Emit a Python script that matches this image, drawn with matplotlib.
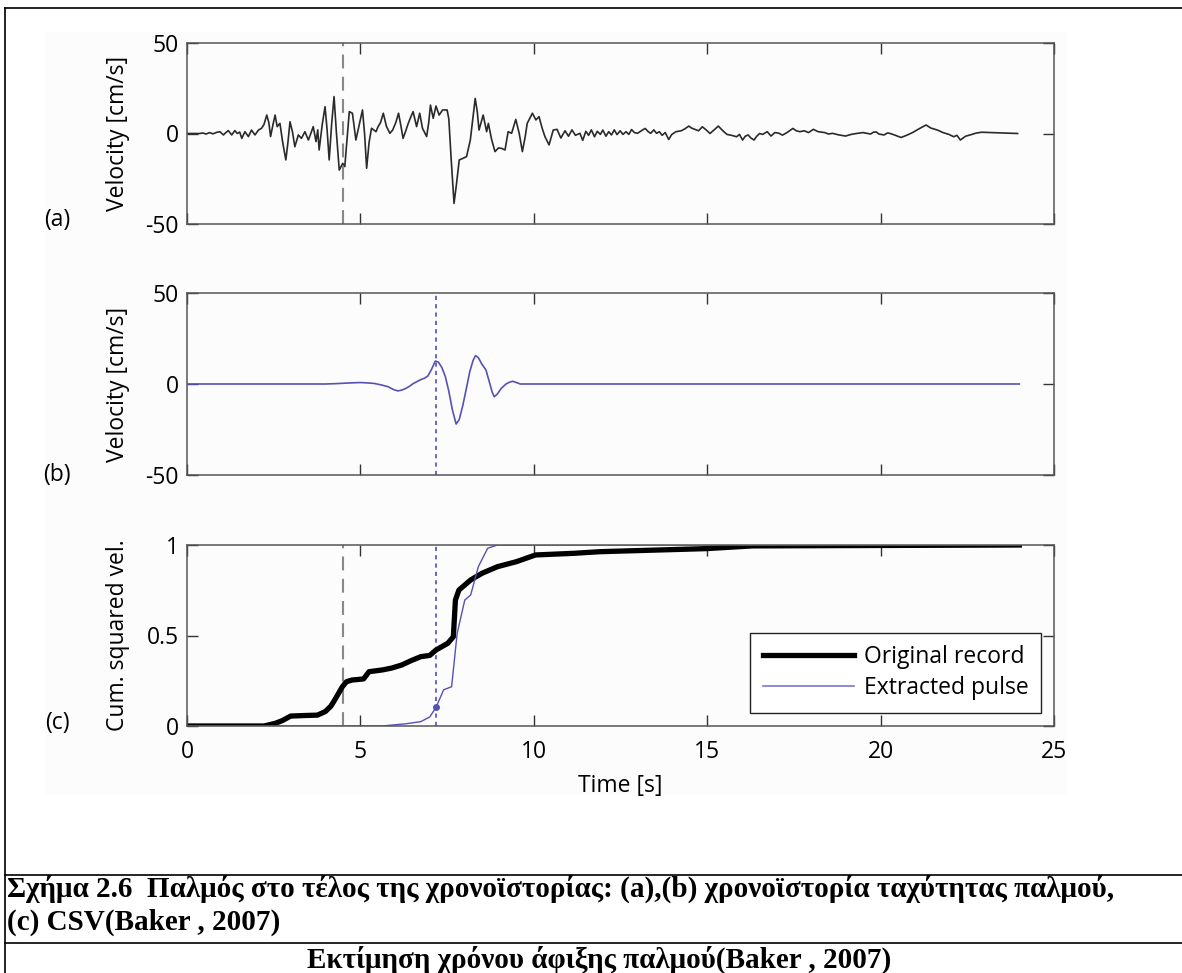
import numpy as np
import matplotlib
matplotlib.use("Agg")
import matplotlib.pyplot as plt
from matplotlib.lines import Line2D
from matplotlib.patches import Rectangle

plt.rcParams['font.family'] = ['Open Sans', 'DejaVu Sans']
plt.rcParams['lines.scale_dashes'] = False
plt.rcParams['axes.unicode_minus'] = False

# (a) original velocity record: time [s], velocity [cm/s]
vel_t = [0.0, 0.37, 0.45, 0.55, 0.65, 0.75, 0.85, 0.95, 1.05, 1.12, 1.19, 1.29, 1.38, 1.45,
         1.52, 1.58, 1.67, 1.77, 1.86, 1.96, 2.06, 2.15, 2.22, 2.30, 2.36, 2.41, 2.48, 2.54,
         2.60, 2.68, 2.76, 2.85, 2.91, 2.97, 3.04, 3.11, 3.21, 3.30, 3.40, 3.50, 3.57, 3.64,
         3.72, 3.77, 3.81, 3.90, 3.98, 4.04, 4.10, 4.17, 4.24, 4.31, 4.39, 4.49, 4.55, 4.62,
         4.68, 4.77, 4.87, 4.97, 5.06, 5.12, 5.18, 5.25, 5.32, 5.45, 5.51, 5.58, 5.66, 5.75,
         5.85, 5.93, 6.02, 6.10, 6.17, 6.23, 6.30, 6.38, 6.45, 6.52, 6.62, 6.71, 6.79, 6.91,
         6.97, 7.02, 7.10, 7.18, 7.27, 7.37, 7.50, 7.55, 7.62, 7.70, 7.77, 7.85, 7.96, 8.06,
         8.17, 8.24, 8.31, 8.37, 8.42, 8.48, 8.54, 8.64, 8.69, 8.78, 8.88, 8.98, 9.07, 9.17,
         9.26, 9.36, 9.48, 9.58, 9.67, 9.75, 9.81, 9.96, 10.06, 10.15, 10.24, 10.32, 10.44,
         10.56, 10.67, 10.78, 10.90, 11.00, 11.10, 11.20, 11.33, 11.41, 11.50, 11.58, 11.66,
         11.75, 11.83, 11.92, 11.99, 12.08, 12.16, 12.24, 12.32, 12.40, 12.49, 12.57, 12.66,
         12.74, 12.82, 12.90, 12.99, 13.10, 13.21, 13.30, 13.37, 13.46, 13.54, 13.62, 13.70,
         13.79, 13.89, 13.98, 14.10, 14.25, 14.35, 14.47, 14.55, 14.64, 14.75, 14.86, 14.97,
         15.08, 15.20, 15.32, 15.45, 15.57, 15.70, 15.85, 15.93, 16.02, 16.10, 16.18, 16.26,
         16.35, 16.43, 16.51, 16.60, 16.73, 16.84, 16.95, 17.06, 17.17, 17.30, 17.47, 17.57,
         17.67, 17.80, 17.92, 18.06, 18.20, 18.39, 18.50, 18.61, 18.80, 18.99, 19.15, 19.30,
         19.49, 19.60, 19.71, 19.80, 19.88, 19.95, 20.10, 20.20, 20.26, 20.40, 20.59, 20.75,
         20.92, 21.10, 21.31, 21.45, 21.64, 21.80, 21.97, 22.11, 22.20, 22.30, 22.45, 22.58,
         22.75, 22.91, 23.95]
vel_v = [0.0, 0.0, 0.3, -0.3, 0.5, -0.2, 0.6, 1.0, -0.8, 0.5, 1.6, -0.8, 1.6, 0.0,
         0.8, -2.7, 1.0, -1.7, 1.9, -0.8, 1.9, 2.9, 5.0, 10.2, 6.0, -1.7, 5.0, 10.2,
         3.8, 5.6, -5.0, -14.6, -5.0, 6.5, 1.0, -7.3, -0.8, -2.7, 1.0, -3.6, 0.0, 3.8,
         -4.5, 2.0, -9.1, 5.0, 14.8, 2.0, -14.6, 5.0, 20.4, 0.0, -20.2, -16.5, -18.3, -2.0,
         12.1, 11.2, -3.6, 5.0, 13.0, 0.0, -19.2, -5.0, 2.9, 1.0, 3.8, 6.0, 11.2, 4.0,
         0.1, 1.9, 6.0, 11.2, 4.0, -2.7, 1.0, 5.6, 9.0, 12.1, 3.8, 11.2, 2.9, -1.7,
         6.0, 15.7, 8.4, 15.2, 10.2, 13.0, 13.0, 8.0, -15.0, -38.6, -28.0, -14.6, -13.7, -12.8,
         -3.6, 8.0, 19.4, 12.0, 1.9, 6.0, 10.2, 1.0, 5.6, -3.0, -10.0, -8.0, -8.2, -9.1,
         1.0, 0.1, 7.8, 0.0, -10.0, -2.0, 5.6, 11.2, 7.5, 9.3, 3.0, -1.7, -6.3,
         1.9, 2.3, -2.5, 1.5, -1.5, 2.0, -1.0, 0.1, -3.8, 1.2, -1.0, 2.0,
         -1.8, 1.2, -0.5, 1.9, -1.5, 1.0, -0.8, 2.0, -0.6, 1.5, -0.5, 1.0,
         -0.5, 2.2, 0.5, 0.1, 1.5, 2.8, 1.0, 0.1, 2.0, 0.1, 1.0, -1.0,
         0.5, -3.3, -0.5, 1.0, 1.5, 2.5, 4.1, 3.0, 2.3, 1.5, 3.7, 2.0,
         0.0, 2.0, 4.1, 1.5, -0.5, -1.0, -1.8, -0.5, -3.6, -1.5, -0.8, -2.5,
         -3.6, -1.5, 0.0, -0.5, 1.0, -1.4, 0.5, 0.2, -0.9, 0.5, 2.8, 1.5,
         1.0, 1.5, 0.5, 2.3, 1.0, 0.5, -0.3, 0.1, -0.8, -1.4, -0.5, 0.0,
         0.5, 0.1, -0.3, 0.8, 0.8, -0.3, -0.8, 0.3, 0.1, -0.8, -2.2, -1.0,
         0.5, 2.5, 4.7, 3.0, 1.9, 0.5, -0.5, -1.8, -1.0, -3.6, -1.5, -0.8,
         0.2, 0.7, 0.0]

# (b) extracted pulse
pulse_t = [0.0, 4.0, 4.3, 4.7, 5.0, 5.2, 5.4, 5.6, 5.8, 5.95, 6.08, 6.2, 6.3, 6.42, 6.52,
           6.65, 6.75, 6.85, 6.95, 7.05, 7.16, 7.25, 7.35, 7.45, 7.55, 7.65, 7.76, 7.85,
           7.95, 8.05, 8.15, 8.25, 8.32, 8.4, 8.5, 8.62, 8.72, 8.8, 8.86, 8.95, 9.06, 9.2,
           9.3, 9.39, 9.5, 9.61, 24.0]
pulse_v = [0.0, 0.0, 0.2, 0.6, 0.8, 0.6, 0.3, -0.5, -1.5, -3.0, -3.8, -3.3, -2.5, -1.2, 0.2,
           1.5, 2.5, 3.2, 4.5, 8.0, 12.6, 12.0, 9.0, 4.0, -4.0, -14.0, -22.0, -19.5,
           -12.0, -3.0, 6.5, 13.0, 15.6, 14.5, 11.0, 7.7, 1.0, -4.5, -7.0, -5.5, -2.4, 0.0,
           1.0, 1.5, 0.8, 0.0, 0.0]

# (c) cumulative squared velocity, normalised
cum_orig_t = [0.0, 2.22, 2.40, 2.55, 2.75, 2.99, 3.40, 3.76, 3.99, 4.15, 4.26, 4.48, 4.60,
              4.76, 5.09, 5.25, 5.64, 5.90, 6.19, 6.45, 6.74, 7.00, 7.18, 7.52, 7.68, 7.74,
              7.84, 8.18, 8.51, 8.95, 9.50, 10.05, 11.15, 11.90, 14.97, 16.30, 24.0]
cum_orig = [0.0, 0.0, 0.008, 0.015, 0.03, 0.055, 0.058, 0.06, 0.08, 0.11, 0.144, 0.217, 0.245,
            0.254, 0.26, 0.30, 0.31, 0.32, 0.337, 0.36, 0.383, 0.39, 0.42, 0.457, 0.493, 0.696,
            0.751, 0.807, 0.844, 0.88, 0.908, 0.945, 0.954, 0.963, 0.98, 0.995, 1.0]

cum_pulse_t = [0.0, 5.64, 5.90, 6.30, 6.74, 7.00, 7.18, 7.40, 7.63, 7.79, 8.01, 8.18, 8.40,
               8.67, 8.95, 24.0]
cum_pulse = [0.0, 0.0, 0.005, 0.012, 0.024, 0.05, 0.103, 0.20, 0.217, 0.512, 0.696, 0.724,
             0.88, 0.982, 1.0, 1.0]

t_orig = 4.5      # original record reference time
t_pulse = 7.18    # pulse arrival time
pulse_mark = 0.103

fig = plt.figure(figsize=(11.82, 9.73), dpi=100)
W, H = 1182, 973

# faint background of the embedded figure
fig.patches.append(Rectangle((45 / W, 1 - 795 / H), (1067 - 45) / W, (795 - 32) / H,
                             transform=fig.transFigure, fc='#fcfcfc', ec='none', zorder=-5))

ax_pos = [(187, 43, 224), (187, 293, 475), (187, 545, 726)]
axes = []
for left, top, bottom in ax_pos:
    ax = fig.add_axes([left / W, 1 - bottom / H, (1054 - left) / W, (bottom - top) / H])
    ax.set_facecolor('none')
    axes.append(ax)

fs = 16.5
blue = '#5652b4'
for ax in axes:
    ax.set_xlim(0, 25)
    ax.set_xticks([0, 5, 10, 15, 20, 25])
    ax.tick_params(direction='in', top=True, right=True, length=8, width=1,
                   color='#333333', labelsize=fs, pad=6)
    ax.tick_params(axis='x', pad=10)
    for s in ax.spines.values():
        s.set_color('#555555')
        s.set_linewidth(1.1)

ax1, ax2, ax3 = axes

ax1.plot(vel_t, vel_v, color='#2a2a2a', lw=1.2)
ax1.axvline(t_orig, color='#888888', lw=1.5, dashes=(10, 6))
ax1.set_ylim(-50, 50)
ax1.set_yticks([-50, 0, 50])
ax1.set_xticklabels([])

ax2.plot(pulse_t, pulse_v, color=blue, lw=1.2)
ax2.axvline(t_pulse, color='#6a66c4', lw=1.4, dashes=(3, 3))
ax2.set_ylim(-50, 50)
ax2.set_yticks([-50, 0, 50])
ax2.set_xticklabels([])

ax3.axvline(t_orig, color='#888888', lw=1.5, dashes=(10, 6))
ax3.axvline(t_pulse, color='#6a66c4', lw=1.4, dashes=(3, 3))
ax3.plot(cum_orig_t, cum_orig, color='black', lw=3.8)
ax3.plot(cum_pulse_t, cum_pulse, color=blue, lw=1.0)
ax3.plot([t_pulse], [pulse_mark], 'o', color=blue, ms=4)
ax3.set_ylim(0, 1)
ax3.set_yticks([0, 0.5, 1])
ax3.set_yticklabels(['0', '0.5', '1'])
ax3.set_xlabel('Time [s]', fontsize=fs, labelpad=7)

for ax, lab in zip(axes, ['Velocity [cm/s]', 'Velocity [cm/s]', 'Cum. squared vel.']):
    ax.set_ylabel(lab, fontsize=fs, va='center')
    ax.yaxis.set_label_coords(-0.08, 0.5)

handles = [Line2D([], [], color='black', lw=3.8), Line2D([], [], color='#7b77c8', lw=1.2)]
leg = ax3.legend(handles, ['Original record', 'Extracted pulse'], loc='lower right',
                 bbox_to_anchor=(0.985, 0.072), borderaxespad=0, fancybox=False,
                 edgecolor='#222222', fontsize=fs, handlelength=4.0, handletextpad=0.4,
                 labelspacing=0.3, borderpad=0.55, framealpha=1)
leg.get_frame().set_linewidth(1.0)

for lab, y in zip(['(a)', '(b)', '(c)'], [220, 475, 723]):
    fig.text(57 / W, 1 - y / H, lab, fontsize=fs, ha='center', va='center')

# table frame around figure and caption
for y in [8, 875, 943]:
    fig.add_artist(Line2D([5 / W, 1], [1 - y / H, 1 - y / H], color='black', lw=1.2))
fig.add_artist(Line2D([5 / W, 5 / W], [1 - 8 / H, 0], color='black', lw=1.2))

cap_font = dict(family='Liberation Serif', weight='bold', fontsize=21)
fig.text(7 / W, 1 - 897 / H,
         'Σχήμα 2.6  Παλμός στο τέλος της χρονοϊστορίας: (a),(b) χρονοϊστορία ταχύτητας παλμού,',
         ha='left', va='baseline', **cap_font)
fig.text(7 / W, 1 - 930 / H, '(c) CSV(Baker , 2007)', ha='left', va='baseline', **cap_font)
fig.text(0.507, 1 - 968 / H, 'Εκτίμηση χρόνου άφιξης παλμού(Baker , 2007)',
         ha='center', va='baseline', **cap_font)

fig.savefig('out.png', dpi=100)
